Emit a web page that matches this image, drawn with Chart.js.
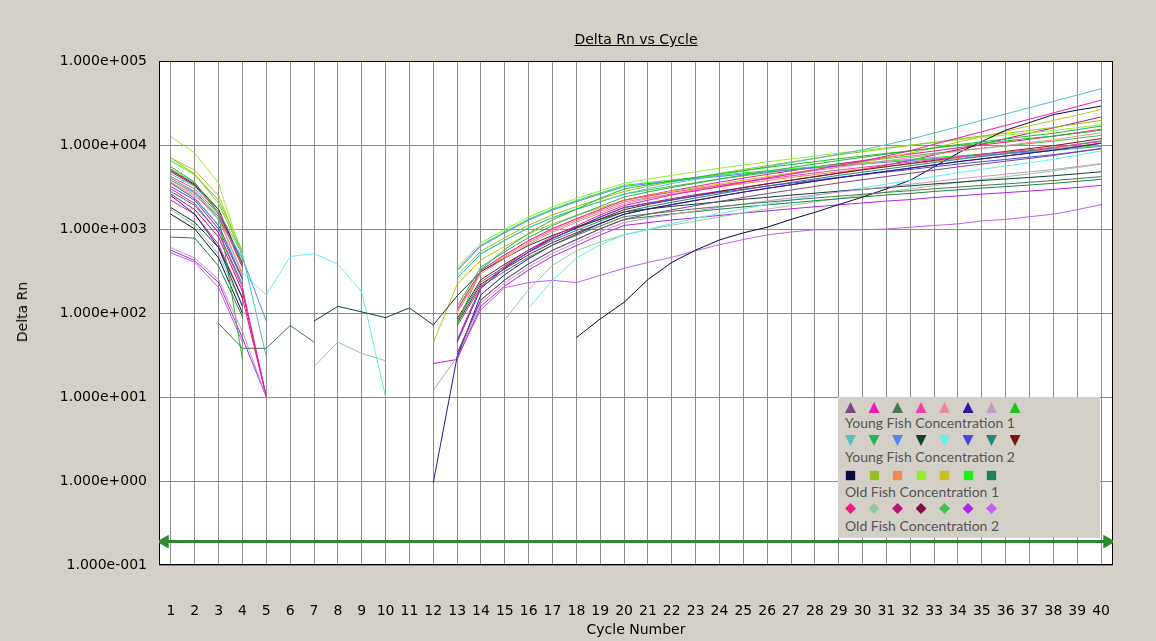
<!DOCTYPE html>
<html>
<head>
<meta charset="utf-8">
<script src="https://cdn.jsdelivr.net/npm/chart.js@4.4.1/dist/chart.umd.min.js"></script>
<style>
  body { margin: 0; background: #d4d0c8; }
  #wrap { position: relative; width: 1156px; height: 641px; background: #d4d0c8; font-family: "DejaVu Sans", sans-serif; }
  #chart { position: absolute; left: 0; top: 0; }
  .ttl { position: absolute; font-size: 14px; color: #000; white-space: nowrap; }
  #title { left: 636px; top: 31px; transform: translateX(-50%); text-decoration: underline; }
  #xtitle { left: 636px; top: 621px; transform: translateX(-50%); }
  #ytitle { left: 22px; top: 312px; transform: translate(-50%, -50%) rotate(-90deg); }
  #legend { position: absolute; left: 838px; top: 397px; width: 262px; height: 141px; background: #d4d0c8; font-family: Lato, "Open Sans", sans-serif; color: #555; }
  .mrow { position: absolute; left: 7px; height: 11px; }
  .mrow span { display: inline-block; width: 11px; height: 11px; margin-right: 12.5px; vertical-align: top; }
  .lrow { position: absolute; left: 7px; font-size: 14px; line-height: 16px; }
  .up { clip-path: polygon(50% 0, 100% 100%, 0 100%); }
  .dn { clip-path: polygon(0 0, 100% 0, 50% 100%); }
  .sq { transform: scale(0.85); }
  .di { clip-path: polygon(50% 0, 100% 50%, 50% 100%, 0 50%); }
</style>
</head>
<body>
<div id="wrap">
  <canvas id="chart" width="1156" height="641"></canvas>
  <div class="ttl" id="title">Delta Rn vs Cycle</div>
  <div class="ttl" id="ytitle">Delta Rn</div>
  <div class="ttl" id="xtitle">Cycle Number</div>
  <div id="legend"></div>
</div>
<script>
const N = null;
const cycles = [];
for (let c = 1; c <= 40; c++) cycles.push(c);
const yTicks = [0.1, 1, 10, 100, 1000, 10000, 100000];
const thresholdValue = 0.19;

const groupNames = ['Young Fish Concentration 1', 'Young Fish Concentration 2', 'Old Fish Concentration 1', 'Old Fish Concentration 2'];
const groupMarkers = ['up', 'dn', 'sq', 'di'];

const youngConc1Colors = ['#7a4a85', '#f01ab4', '#4a7a4a', '#f040b0', '#f08898', '#2a1aa0', '#c898c8', '#20c020'];
const youngConc2Colors = ['#50c0c8', '#20b850', '#5088f0', '#104030', '#60f0f0', '#4848e0', '#208878', '#801010'];
const oldConc1Colors = ['#0a0a40', '#98c020', '#f08850', '#90f030', '#c8c020', '#20f020', '#208050'];
const oldConc2Colors = ['#f01880', '#98c898', '#b01870', '#801040', '#40c050', '#b020f0', '#c060f0'];

// Young fish, concentration 1
const youngConc1 = [
  [3500,2300,1100,260,N, N,N,N,N,N,N, N, 33,143,248,385,558,748,1005, 1300, 1500,1690,1900,2130,2380,2640,2910,3210,3540,3860,4210,4600,5020,5490,5930,6410,6930,7500,8260,9100],
  [3000,2000,900,200,10, N,N,N,N,N,N, N, 48,209,363,562,815,1093,1469, 1900, 2200,2550,2850,3190,3590,4030,4520,5070,5700,6400,7390,8550,10200,12100,14400,17100,20300,24100,28700,34200],
  [N,N,75,38,38, 71,45,N,N,N,N, N, 70,206,314,462,643,841,1085, 1400, 1510,1620,1740,1850,1970,2090,2210,2340,2460,2590,2730,2860,3010,3150,3300,3440,3600,3770,3980,4200],
  [4200,3000,1500,350,N, N,N,N,N,N,N, N, 110,323,493,726,1010,1322,1705, 2200, 2460,2730,3010,3320,3630,3960,4290,4640,5040,5410,5830,6250,6730,7240,7720,8230,8780,9370,10100,11000],
  [3800,2600,1300,300,N, N,N,N,N,N,N, N, 100,294,448,660,918,1202,1550, 2000, 2300,2600,2920,3280,3660,4060,4480,4940,5440,5940,6480,7080,7720,8440,9120,9860,10700,11500,12700,14000],
  [2500,1500,600,120,N, N,N,N,N,N,N, 0.95, 30,165,287,444,644,863,1160, 1500, 1730,1950,2190,2460,2750,3050,3360,3710,4080,4460,4860,5310,5790,6330,6840,7400,8000,8660,9530,10500],
  [600,450,250,60,10, N,N,N,N,N,N, 12, 30,132,229,355,515,690,928, 1200, 1340,1490,1640,1810,1980,2160,2340,2530,2750,2950,3180,3410,3670,3950,4210,4490,4790,5110,5530,6000],
  [5500,3600,1500,28,N, N,N,N,N,N,N, N, 75,330,573,888,1287,1725,2319, 3000, 3360,3720,4110,4530,4950,5400,5850,6330,6870,7380,7950,8520,9180,9870,10500,11200,12000,12800,13800,15000]
];

// Young fish, concentration 2
const youngConc2 = [
  [4500,3200,1600,500,30, N,N,N,N,N,N, N, 260,507,733,1035,1365,1719,2114, 2600, 3020,3480,3900,4370,4910,5510,6190,6940,7800,8760,10100,11700,13900,16500,19700,23400,27800,33000,39300,46800],
  [4000,2800,1400,400,N, N,N,N,N,N,N, N, 120,353,538,792,1102,1442,1860, 2400, 2760,3120,3500,3940,4390,4870,5380,5930,6530,7130,7780,8500,9260,10100,10900,11800,12800,13800,15200,16800],
  [3800,2700,1300,450,80, N,N,N,N,N,N, N, 320,624,902,1274,1680,2115,2602, 3200, 3460,3710,3970,4220,4510,4770,5060,5340,5630,5920,6240,6530,6880,7200,7550,7870,8220,8610,9090,9600],
  [1800,1200,600,150,N, N,80,120,103,88,115, 72, 160,312,451,637,840,1058,1301, 1600, 1730,1860,1980,2110,2260,2380,2530,2670,2820,2960,3120,3260,3440,3600,3780,3940,4110,4300,4540,4800],
  [3500,2400,1100,300,163, 470,510,380,178,10,N, N, N,N,N,115,245,450,650, 850, 995,1160,1340,1530,1730,1970,2210,2480,2780,3090,3430,3800,4210,4680,5130,5620,6150,6750,7570,8500],
  [3200,2200,1000,250,N, N,N,N,N,N,N, N, 45,198,344,533,772,1035,1391, 1800, 2020,2230,2470,2720,2970,3240,3510,3800,4120,4430,4770,5110,5510,5920,6320,6730,7180,7670,8300,9000],
  [2800,1900,900,220,N, N,N,N,N,N,N, N, 80,235,358,528,734,962,1240, 1600, 1840,2080,2340,2620,2930,3250,3580,3950,4350,4750,5180,5660,6180,6750,7300,7890,8530,9230,10200,11200],
  [5000,3400,1700,380,N, N,N,N,N,N,N, N, 85,250,381,561,780,1022,1318, 1700, 1960,2210,2480,2790,3110,3450,3810,4200,4620,5050,5510,6020,6560,7170,7750,8380,9060,9810,10800,11900]
];

// Old fish, concentration 1
const oldConc1 = [
  [1500,1000,450,100,N, N,N,N,N,N,N, N, N,N,N,N,N,51,85, 134, 250,400,560,740,900,1050,1300,1580,1950,2400,3000,3800,5500,8000,11000,15000,18500,23000,26000,29000],
  [7000,4500,2000,500,N, N,N,N,N,N,N, N, 280,546,790,1114,1470,1851,2276, 2800, 3220,3640,4090,4590,5120,5680,6270,6920,7620,8320,9070,9910,10800,11800,12800,13800,14900,16200,17800,19600],
  [3600,2500,1400,280,N, N,N,N,N,N,N, N, 105,309,470,693,964,1262,1628, 2100, 2350,2600,2880,3170,3470,3780,4100,4430,4810,5170,5570,5960,6430,6910,7370,7850,8380,8950,9680,10500],
  [12600,8000,3500,450,N, N,N,N,N,N,N, N, 350,683,987,1393,1838,2314,2846, 3500, 3920,4340,4800,5290,5780,6300,6830,7390,8020,8610,9280,9940,10700,11500,12300,13100,14000,14900,16100,17500],
  [7000,5000,2500,500,N, N,N,N,N,N,N, 44, 220,429,620,876,1155,1454,1789, 2200, 2490,2820,3120,3430,3810,4200,4640,5130,5650,6250,7060,8010,9310,10800,12500,14500,16900,19600,22700,26400],
  [6500,4400,2200,550,N, N,N,N,N,N,N, N, 330,644,931,1313,1733,2181,2683, 3300, 3560,3830,4090,4360,4650,4920,5210,5510,5810,6110,6440,6730,7100,7430,7790,8120,8480,8880,9370,9900],
  [800,780,360,90,N, N,N,N,N,N,N, N, 33,143,248,385,558,748,1005, 1300, 1400,1510,1610,1720,1830,1940,2050,2170,2290,2410,2540,2650,2800,2930,3070,3200,3340,3500,3690,3900]
];

// Old fish, concentration 2
const oldConc2 = [
  [2200,1500,650,150,10, N,N,N,N,N,N, N, 110,323,493,726,1010,1322,1705, 2200, 2530,2860,3210,3610,4030,4470,4930,5430,5980,6530,7130,7790,8490,9280,10000,10800,11700,12700,14000,15400],
  [1700,1100,500,120,N, N,23,45,33,27,N, N, N,N,83,190,370,550,700, 850, 980,1110,1240,1390,1560,1730,1900,2100,2310,2530,2750,3010,3280,3590,3880,4190,4530,4910,5400,5950],
  [2600,1700,800,180,10, N,N,N,N,N,N, N, 45,198,344,533,772,1035,1391, 1800, 2030,2300,2560,2810,3110,3440,3800,4190,4630,5110,5780,6550,7610,8840,10200,11900,13800,16000,18500,21600],
  [4800,3300,1600,350,N, N,N,N,N,N,N, N, 75,221,336,495,689,902,1163, 1500, 1730,1950,2190,2460,2750,3050,3360,3710,4080,4460,4860,5310,5790,6330,6840,7400,8000,8660,9530,10500],
  [5200,3500,1700,400,N, N,N,N,N,N,N, N, 260,507,733,1035,1365,1719,2114, 2600, 2910,3220,3560,3930,4290,4680,5070,5490,5950,6400,6890,7380,7960,8550,9130,9720,10400,11100,12000,13000],
  [560,420,230,50,10, N,N,N,N,N,N, 25, 28,121,210,326,472,633,850, 1100, 1190,1280,1360,1450,1550,1640,1740,1840,1940,2040,2150,2240,2370,2480,2600,2710,2830,2960,3120,3300],
  [520,400,200,45,N, N,N,N,N,N,N, N, 30,110,200,230,245,230,280, 340, 400,460,550,650,750,850,920,980,980,980,1000,1050,1100,1150,1250,1300,1400,1500,1700,1950]
];

const groups = [
  { rows: youngConc1, colors: youngConc1Colors },
  { rows: youngConc2, colors: youngConc2Colors },
  { rows: oldConc1, colors: oldConc1Colors },
  { rows: oldConc2, colors: oldConc2Colors }
];

const datasets = [];
groups.forEach((g, gi) => {
  g.rows.forEach((row, i) => {
    datasets.push({
      label: groupNames[gi] + ' ' + (i + 1),
      data: row,
      borderColor: g.colors[i],
      backgroundColor: g.colors[i],
      borderWidth: 1,
      pointRadius: 0,
      spanGaps: false,
      tension: 0
    });
  });
});

// threshold line with arrow ends
datasets.push({
  label: 'Threshold',
  data: [{ x: 0.74, y: thresholdValue }, { x: 40.26, y: thresholdValue }],
  borderColor: '#2e8a2e',
  backgroundColor: '#2e8a2e',
  borderWidth: 3,
  pointStyle: 'triangle',
  pointRadius: 5,
  pointRotation: ctx => ctx.dataIndex === 0 ? -90 : 90
});

function sciLabel(v) {
  const e = Math.round(Math.log10(v));
  return '1.000e' + (e < 0 ? '-' : '+') + String(Math.abs(e)).padStart(3, '0');
}

const plotFrame = {
  id: 'plotFrame',
  beforeDraw(chart) {
    const a = chart.chartArea, ctx = chart.ctx;
    ctx.save();
    ctx.fillStyle = '#fff';
    ctx.fillRect(a.left, a.top, a.right - a.left, a.bottom - a.top);
    ctx.restore();
  },
  beforeDatasetsDraw(chart) {
    const a = chart.chartArea, ctx = chart.ctx;
    ctx.save();
    ctx.strokeStyle = '#000';
    ctx.lineWidth = 1;
    ctx.strokeRect(a.left + 0.5, a.top + 0.5, a.right - a.left - 1, a.bottom - a.top - 1);
    ctx.restore();
  }
};

Chart.defaults.font.family = '"DejaVu Sans", sans-serif';
Chart.defaults.font.size = 14;
Chart.defaults.color = '#000';

new Chart(document.getElementById('chart'), {
  type: 'line',
  data: { labels: cycles, datasets },
  options: {
    responsive: false,
    animation: false,
    events: [],
    layout: { padding: { left: 0, right: 43, top: 61, bottom: 0 } },
    plugins: { legend: { display: false }, title: { display: false }, tooltip: { enabled: false } },
    scales: {
      x: {
        type: 'linear',
        min: 0.5,
        max: 40.5,
        afterBuildTicks: s => { s.ticks = cycles.map(v => ({ value: v })); },
        afterFit: s => { s.height = 76; },
        grid: { color: '#8c8c8c', lineWidth: 1, drawTicks: false },
        border: { display: false },
        ticks: { autoSkip: false, maxRotation: 0, padding: 38, callback: v => String(v) }
      },
      y: {
        type: 'logarithmic',
        min: 0.1,
        max: 100000,
        afterBuildTicks: s => { s.ticks = yTicks.map(v => ({ value: v })); },
        afterFit: s => { s.width = 159; },
        grid: { color: '#8c8c8c', lineWidth: 1, drawTicks: false },
        border: { display: false },
        ticks: { padding: 12, callback: v => sciLabel(v) }
      }
    }
  },
  plugins: [plotFrame]
});

// legend box inside plot
const legend = document.getElementById('legend');
const markerTops = [5, 38, 73, 106];
const textTops = [18, 52, 87, 121];
groups.forEach((g, gi) => {
  const m = document.createElement('div');
  m.className = 'mrow';
  m.style.top = markerTops[gi] + 'px';
  g.colors.forEach(c => {
    const s = document.createElement('span');
    s.className = groupMarkers[gi];
    s.style.background = c;
    m.appendChild(s);
  });
  legend.appendChild(m);
  const t = document.createElement('div');
  t.className = 'lrow';
  t.style.top = textTops[gi] + 'px';
  t.textContent = groupNames[gi];
  legend.appendChild(t);
});
</script>
</body>
</html>
